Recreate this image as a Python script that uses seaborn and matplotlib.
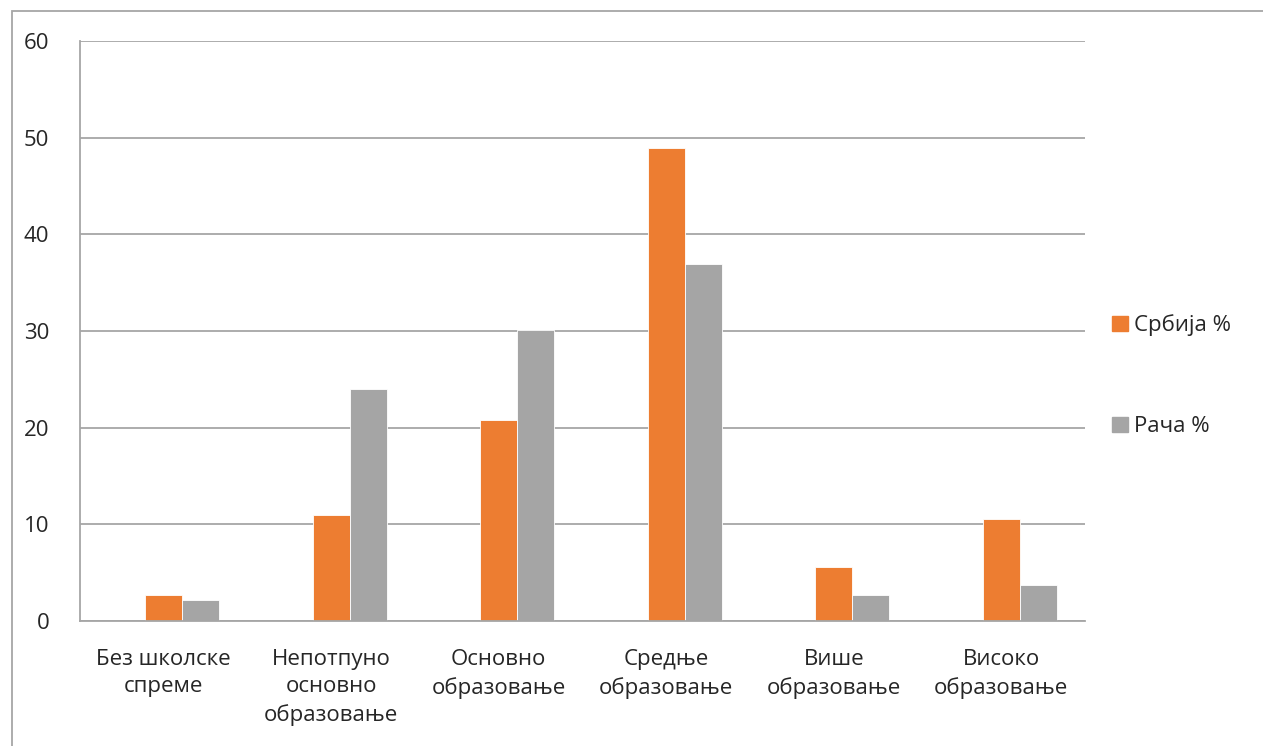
import pandas as pd
import matplotlib.pyplot as plt
import matplotlib.patches as mpatches
import seaborn as sns

# --- Data ---
categories = [
    "Без школске\nспреме",
    "Непотпуно\nосновно\nобразовање",
    "Основно\nобразовање",
    "Средње\nобразовање",
    "Више\nобразовање",
    "Високо\nобразовање",
]
srbija = [2.7, 11.0, 20.8, 48.9, 5.6, 10.6]
raca = [2.2, 24.0, 30.1, 36.9, 2.7, 3.7]
series_names = ["Србија %", "Рача %"]
colors = ["#ED7D31", "#A5A5A5"]

df = pd.DataFrame({
    "cat": categories * 2,
    "value": srbija + raca,
    "series": [series_names[0]] * len(categories) + [series_names[1]] * len(categories),
})

sns.set_style("white")
plt.rcParams["font.family"] = ["Open Sans", "DejaVu Sans"]

W, H = 1263, 746
FS = 16
fig = plt.figure(figsize=(W / 100, H / 100), dpi=100)
ax = fig.add_axes([80 / W, 1 - 621 / H, (1085 - 80) / W, (621 - 41) / H])

# empty first hue level keeps Excel's slot layout (3 series, first blank)
sns.barplot(
    data=df, x="cat", y="value", hue="series",
    hue_order=["_blank"] + series_names,
    palette=dict(zip(["_blank"] + series_names, ["white"] + colors)),
    saturation=1, width=0.663, gap=0, edgecolor="white", linewidth=0.6,
    legend=False, ax=ax,
)

ax.set_xlim(-0.5, len(categories) - 0.5)
ax.set_ylim(0, 60)
ax.set_yticks(range(0, 61, 10))
ax.yaxis.grid(True, color="#A6A6A6", linewidth=1.3)
ax.set_axisbelow(True)
ax.set_xlabel("")
ax.set_ylabel("")

for s in ["top", "right"]:
    ax.spines[s].set_visible(False)
for s in ["left", "bottom"]:
    ax.spines[s].set_color("#A6A6A6")
    ax.spines[s].set_linewidth(1.3)

ax.tick_params(axis="y", length=8, color="#A6A6A6", width=1.3, labelsize=FS, pad=14)
ax.set_xticks(range(len(categories)))
ax.set_xticklabels(categories, fontsize=FS, linespacing=1.42)
ax.tick_params(axis="x", which="major", length=0, pad=20)
ax.set_xticks([i - 0.5 for i in range(len(categories) + 1)], minor=True)
ax.tick_params(axis="x", which="minor", length=8, color="#A6A6A6", width=1.3)

# legend on the right
handles = [mpatches.Patch(color=c, label=n) for c, n in zip(colors, series_names)]
fig.legend(
    handles=handles, loc="center left", bbox_to_anchor=(1092 / W, 1 - 376 / H),
    frameon=False, fontsize=FS, labelspacing=3.6, handlelength=0.7,
    handleheight=0.7, handletextpad=0.3,
)

# outer chart border (right and bottom edges fall outside the image)
fig.patches.append(mpatches.Rectangle(
    (12 / W, -0.05), 1.1, 1 - 11 / H + 0.05, transform=fig.transFigure,
    fill=False, edgecolor="#A6A6A6", linewidth=1.3,
))

plt.savefig("out.png", dpi=100)
